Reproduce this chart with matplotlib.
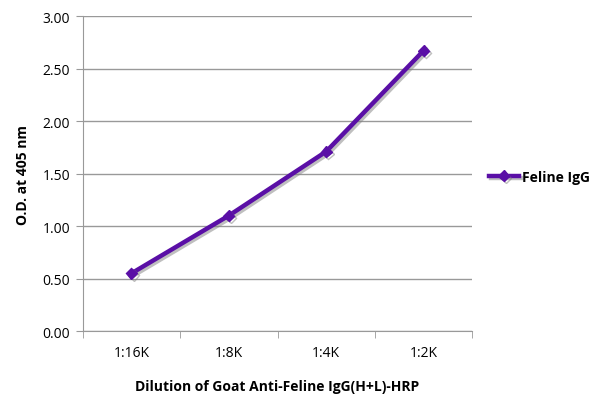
import matplotlib
matplotlib.use("Agg")
import matplotlib.pyplot as plt
import matplotlib.patheffects as pe

categories = ["1:16K", "1:8K", "1:4K", "1:2K"]
values = [0.55, 1.10, 1.71, 2.67]
series_name = "Feline IgG"
yticks = [0.0, 0.5, 1.0, 1.5, 2.0, 2.5, 3.0]

plt.rcParams['font.family'] = ['Open Sans', 'DejaVu Sans']

fig = plt.figure(figsize=(6, 4.06), dpi=100)
ax = fig.add_axes([0.138, 0.182, 0.649, 0.776])

color = "#5a0fa6"
x = list(range(len(categories)))
ax.plot(x, values, color=color, lw=3.2, marker="D", ms=5.5, label=series_name,
        path_effects=[pe.SimpleLineShadow(offset=(1.5, -1.5), shadow_color="gray", alpha=0.5), pe.Normal()],
        zorder=3)

ax.set_xlim(-0.5, len(categories) - 0.5)
ax.set_ylim(0, 3.0)
ax.set_yticks(yticks)
ax.set_yticklabels([f"{v:.2f}" for v in yticks], fontsize=10)
ax.set_xticks(x)
ax.set_xticklabels(categories, fontsize=10)
ax.set_xticks([i - 0.5 for i in range(len(categories) + 1)], minor=True)
ax.tick_params(axis="x", which="major", length=0, pad=10)
ax.tick_params(axis="x", which="minor", length=5, color="#999999")
ax.tick_params(axis="y", length=5, color="#999999", pad=4)

ax.grid(axis="y", color="#999999", lw=1)
ax.set_axisbelow(True)
for s in ["top", "right"]:
    ax.spines[s].set_visible(False)
ax.spines["left"].set_color("#999999")
ax.spines["bottom"].set_color("#999999")

ax.set_ylabel("O.D. at 405 nm", fontsize=10, fontweight="bold", labelpad=9)
ax.set_xlabel("Dilution of Goat Anti-Feline IgG(H+L)-HRP", fontsize=10, fontweight="bold", labelpad=14)

leg = ax.legend(loc="center left", bbox_to_anchor=(1.01, 0.49), frameon=False,
                handlelength=2.2, handletextpad=0.2, prop={"weight": "bold", "size": 10})

fig.savefig("out.png", dpi=100)
